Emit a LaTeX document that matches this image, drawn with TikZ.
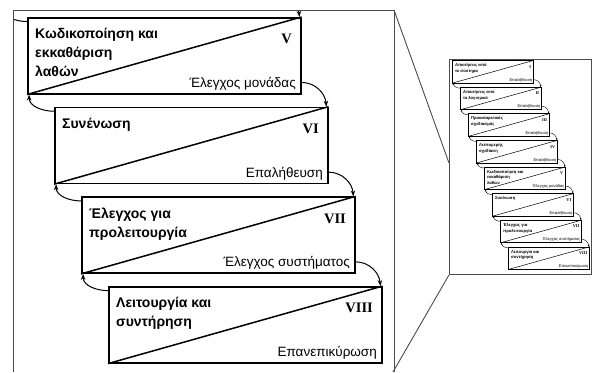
\documentclass[tikz,border=0pt]{standalone}
\usepackage{fontspec}
\newfontfamily\grsans{Liberation Sans}
\newfontfamily\grserif{Liberation Serif}
\usetikzlibrary{arrows.meta}
\tikzset{
  stbox/.style={draw, boxln, minimum width=273pt, minimum height=76pt, inner sep=0pt, anchor=north west, transform shape},
  ttl/.style={anchor=north west, inner sep=0pt, align=left, transform shape, font=\grsans\bfseries\fontsize{14}{19}\selectfont},
  numtxt/.style={anchor=east, inner sep=0pt, transform shape, font=\grserif\bfseries\fontsize{14.5}{16}\selectfont},
  lbltxt/.style={anchor=base east, inner sep=0pt, transform shape, font=\grsans\fontsize{13.5}{15}\selectfont},
  frameln/.style={draw=black!70, line width=0.9pt},
}
\newcommand\stairbox[7]{%
  \node[stbox] (#1b#2) at (#3,#4) {};
  \draw[boxln] (#1b#2.south west) -- (#1b#2.north east);
  \node[ttl] (#1t#2) at (#3+8,#4+11) {#5};
  \node[numtxt] (#1n#2) at (#3+265,#4+22) {#6};
  \node[lbltxt] (#1l#2) at (#3+269,#4+70.5) {#7};
}
\newcommand\stairlink[3]{%
  \draw[arrln] (#1b#2.-11.6) to[out=0,in=95] (#1b#3.16.1);
  \draw[arrln] (#1b#3.166.8) to[out=180,in=-90] (#1b#2.196.66);
}
\newcommand\stairlower[1]{%
  \stairbox{#1}{5}{27}{17}{Κωδικοποίηση και\\εκκαθάριση\\λαθών}{V}{Έλεγχος μονάδας}
  \stairbox{#1}{6}{54}{106.7}{Συνένωση}{VI}{Επαλήθευση}
  \stairbox{#1}{7}{81}{196.4}{Έλεγχος για\\προλειτουργία}{VII}{Έλεγχος συστήματος}
  \stairbox{#1}{8}{108}{286.1}{Λειτουργία και\\συντήρηση}{VIII}{Επανεπικύρωση}
  \stairlink{#1}{4}{5}
  \stairlink{#1}{5}{6}
  \stairlink{#1}{6}{7}
  \stairlink{#1}{7}{8}
}
\begin{document}
\begin{tikzpicture}[x=1pt,y=-1pt]
  \useasboundingbox (0,0) rectangle (593,372);
  \fill[white] (0,0) rectangle (593,372);
  % main enlarged view (clipped to the frame)
  \begin{scope}[boxln/.style={line width=1.5pt}, arrln/.style={line width=1pt, -{Stealth[length=6pt,width=4.5pt]}}]
    \clip (13,10) rectangle (394,372);
    \node[stbox] (mb4) at (0,-72.7) {};
    \stairlower{m}
  \end{scope}
  % small overview
  \begin{scope}[shift={(476.6,161.8)}, scale=0.2967,
      boxln/.style={line width=0.5pt}, arrln/.style={line width=0.4pt, -{Stealth[length=2pt,width=1.6pt]}}]
    \stairbox{s}{1}{-81}{-341.8}{Απαιτήσεις από\\το σύστημα}{I}{Επαλήθευση}
    \stairbox{s}{2}{-54}{-252.1}{Απαιτήσεις από\\το λογισμικό}{II}{Επαλήθευση}
    \stairbox{s}{3}{-27}{-162.4}{Προκαταρκτικός\\σχεδιασμός}{III}{Επαλήθευση}
    \stairbox{s}{4}{0}{-72.7}{Λεπτομερής\\σχεδίαση}{IV}{Επαλήθευση}
    \stairlink{s}{1}{2}
    \stairlink{s}{2}{3}
    \stairlink{s}{3}{4}
    \stairlower{s}
  \end{scope}
  % frames and zoom lines
  \coordinate (fbl) at (13,372);
  \coordinate (ftl) at (13,10);
  \coordinate (ftr) at (394,10);
  \coordinate (fbr) at (394,372);
  \coordinate (zl) at (393,372);
  \node[frameln, minimum width=142pt, minimum height=215pt, inner sep=0pt, anchor=north west] (zoomframe) at (449,59) {};
  \draw[frameln] (fbl) -- (ftl) -- (ftr) -- (fbr);
  \draw[frameln] (ftr) -- (zoomframe.west |- 0,163);
  \draw[frameln] (zoomframe.south west) -- (zl);
\end{tikzpicture}
\end{document}
